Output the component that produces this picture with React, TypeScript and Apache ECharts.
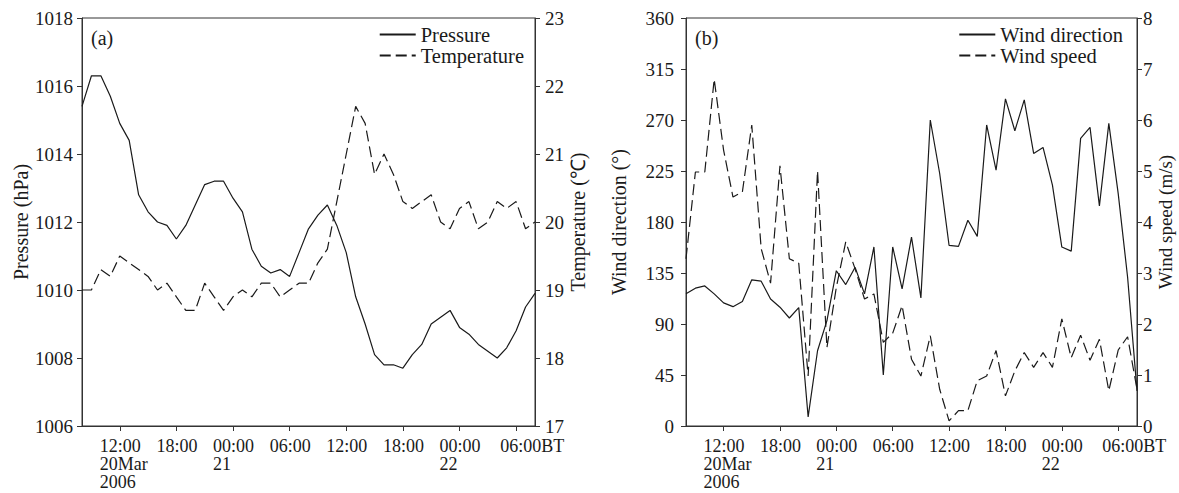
import React, { useEffect, useRef } from 'react';
import * as echarts from 'echarts';

const FONT = '"Liberation Serif", "Times New Roman", serif';
const INK = '#1a1a1a';
const AXIS = '#333';

// hourly observations, 08:00 BT 20 Mar 2006 -> 08:00 BT 22 Mar 2006
const START_DAY = 20;
const START_HOUR = 8;
const N_HOURS = 49;
const timeCategories: string[] = Array.from({ length: N_HOURS }, (_, i) => {
  const t = START_HOUR + i;
  const d = START_DAY + Math.floor(t / 24);
  const hh = t % 24;
  return `${d} ${String(hh).padStart(2, '0')}:00`;
});

const tickLabels: Record<string, string[]> = {
  '20 12:00': ['12:00', '20Mar', '2006'],
  '20 18:00': ['18:00'],
  '21 00:00': ['00:00', '21'],
  '21 06:00': ['06:00'],
  '21 12:00': ['12:00'],
  '21 18:00': ['18:00'],
  '22 00:00': ['00:00', '22'],
  '22 06:00': ['06:00BT'],
};

const pressure = [
  1015.4, 1016.3, 1016.3, 1015.7, 1014.9, 1014.4, 1012.8, 1012.3, 1012.0, 1011.9,
  1011.5, 1011.9, 1012.5, 1013.1, 1013.2, 1013.2, 1012.7, 1012.3, 1011.2, 1010.7,
  1010.5, 1010.6, 1010.4, 1011.1, 1011.8, 1012.2, 1012.5, 1011.9, 1011.1, 1009.8,
  1009.0, 1008.1, 1007.8, 1007.8, 1007.7, 1008.1, 1008.4, 1009.0, 1009.2, 1009.4,
  1008.9, 1008.7, 1008.4, 1008.2, 1008.0, 1008.3, 1008.8, 1009.5, 1009.9,
];

const temperature = [
  19.0, 19.0, 19.3, 19.2, 19.5, 19.4, 19.3, 19.2, 19.0, 19.1,
  18.9, 18.7, 18.7, 19.1, 18.9, 18.7, 18.9, 19.0, 18.9, 19.1,
  19.1, 18.9, 19.0, 19.1, 19.1, 19.4, 19.6, 20.3, 21.0, 21.7,
  21.45, 20.7, 21.0, 20.7, 20.3, 20.2, 20.3, 20.4, 20.0, 19.9,
  20.2, 20.3, 19.9, 20.0, 20.3, 20.2, 20.3, 19.9, 20.0,
];

const windDirection = [
  116.6, 121.6, 123.6, 116.6, 108.6, 105.3, 109.8, 129, 127.8, 112,
  104.8, 95.3, 104.5, 8, 66.4, 93, 137, 124.8, 140, 116.6,
  158, 45, 158, 121, 166.7, 113, 270, 222.8, 159.3, 158.5,
  181.5, 167.3, 265.6, 225.7, 288.6, 260.5, 287.7, 240.5, 245.8, 212.5,
  157.9, 154.3, 253.8, 263.5, 194.2, 267, 205, 131.3, 31,
];

const windSpeed = [
  3.28, 4.98, 4.98, 6.8, 5.41, 4.49, 4.59, 5.9, 3.48, 2.8,
  5.1, 3.28, 3.19, 0.98, 5.0, 1.54, 2.72, 3.61, 3.08, 2.49,
  2.59, 1.64, 1.82, 2.36, 1.31, 0.98, 1.77, 0.72, 0.1, 0.3,
  0.3, 0.89, 0.98, 1.48, 0.59, 1.08, 1.44, 1.15, 1.44, 1.15,
  2.1, 1.34, 1.78, 1.29, 1.7, 0.69, 1.49, 1.75, 0.72,
];

const DASH = [11, 5];

function xAxisFor(gridIndex: number) {
  const show = (_i: number, v: string) => v in tickLabels;
  const base = { fontSize: 18, fontFamily: FONT, color: INK, lineHeight: 18, align: 'left' };
  return {
    type: 'category',
    gridIndex,
    data: timeCategories,
    boundaryGap: false,
    axisLine: { lineStyle: { color: AXIS, width: 1 } },
    axisTick: { interval: show, length: 5, lineStyle: { color: AXIS } },
    splitLine: { show: false },
    axisLabel: {
      interval: show,
      margin: 11,
      formatter: (v: string) =>
        (tickLabels[v] || [])
          .map((l) => `{${l.endsWith('BT') ? 'r' : 'l'}|${l}}`)
          .join('\n'),
      rich: {
        l: { ...base, width: 40 },
        r: { ...base, width: 32 },
      },
    },
  };
}

function yAxisFor(
  gridIndex: number,
  position: 'left' | 'right',
  min: number,
  max: number,
  interval: number,
  name: string,
  nameGap: number,
  margin: number,
  nameSize = 20,
) {
  return {
    type: 'value',
    gridIndex,
    position,
    min,
    max,
    interval,
    name,
    nameLocation: 'middle',
    nameRotate: 90,
    nameGap,
    nameTextStyle: { fontSize: nameSize, fontFamily: FONT, color: INK },
    axisLine: { show: true, lineStyle: { color: AXIS, width: 1 } },
    axisTick: { show: true, length: 5, lineStyle: { color: AXIS } },
    splitLine: { show: false },
    axisLabel: {
      fontSize: 19,
      fontFamily: FONT,
      color: INK,
      margin,
      formatter: (v: number) => String(v),
    },
  };
}

function lineSeries(name: string, data: number[], xAxisIndex: number, yAxisIndex: number, dashed: boolean) {
  return {
    name,
    type: 'line',
    data,
    xAxisIndex,
    yAxisIndex,
    symbol: 'none',
    showSymbol: false,
    lineStyle: { color: INK, width: 1.2, type: dashed ? DASH : 'solid' },
    itemStyle: { color: INK },
  };
}

export default function App() {
  const ref = useRef<HTMLDivElement>(null);
  useEffect(() => {
    if (!ref.current) return;
    const chart = echarts.init(ref.current, undefined, { renderer: 'svg' });
    const legendCommon = {
      orient: 'vertical',
      top: 24,
      itemWidth: 36,
      itemHeight: 14,
      itemGap: 0,
      itemTextGap: 6,
      padding: 0,
      itemStyle: { opacity: 0, borderWidth: 0 },
      textStyle: { fontSize: 20.5, fontFamily: FONT, color: INK, lineHeight: 18 },
    };
    const gridCommon = {
      top: 18,
      height: 408,
      show: true,
      borderColor: AXIS,
      borderWidth: 1,
      backgroundColor: 'transparent',
      containLabel: false,
      outerBoundsMode: 'none',
    };
    chart.setOption({
      animation: false,
      backgroundColor: '#fff',
      title: [
        { text: '(a)', left: 91, top: 28, padding: 0, textStyle: { fontSize: 20, fontWeight: 'normal', fontFamily: FONT, color: INK } },
        { text: '(b)', left: 695, top: 28, padding: 0, textStyle: { fontSize: 20, fontWeight: 'normal', fontFamily: FONT, color: INK } },
      ],
      legend: [
        { ...legendCommon, right: 655, data: ['Pressure', 'Temperature'] },
        { ...legendCommon, right: 56, data: ['Wind direction', 'Wind speed'] },
      ],
      grid: [
        { ...gridCommon, left: 82, width: 453 },
        { ...gridCommon, left: 686, width: 451 },
      ],
      xAxis: [xAxisFor(0), xAxisFor(1)],
      yAxis: [
        yAxisFor(0, 'left', 1006, 1018, 2, 'Pressure (hPa)', 47, 9),
        yAxisFor(0, 'right', 17, 23, 1, 'Temperature (℃)', 24, 10),
        yAxisFor(1, 'left', 0, 360, 45, 'Wind direction (°)', 57, 12),
        yAxisFor(1, 'right', 0, 8, 1, 'Wind speed (m/s)', 12, 6, 19),
      ],
      series: [
        lineSeries('Pressure', pressure, 0, 0, false),
        lineSeries('Temperature', temperature, 0, 1, true),
        lineSeries('Wind direction', windDirection, 1, 2, false),
        lineSeries('Wind speed', windSpeed, 1, 3, true),
      ],
    });
    return () => chart.dispose();
  }, []);
  return (
    <div
      ref={ref}
      style={{ position: 'fixed', left: 0, top: 0, width: 1179, height: 493, background: '#fff' }}
    />
  );
}
